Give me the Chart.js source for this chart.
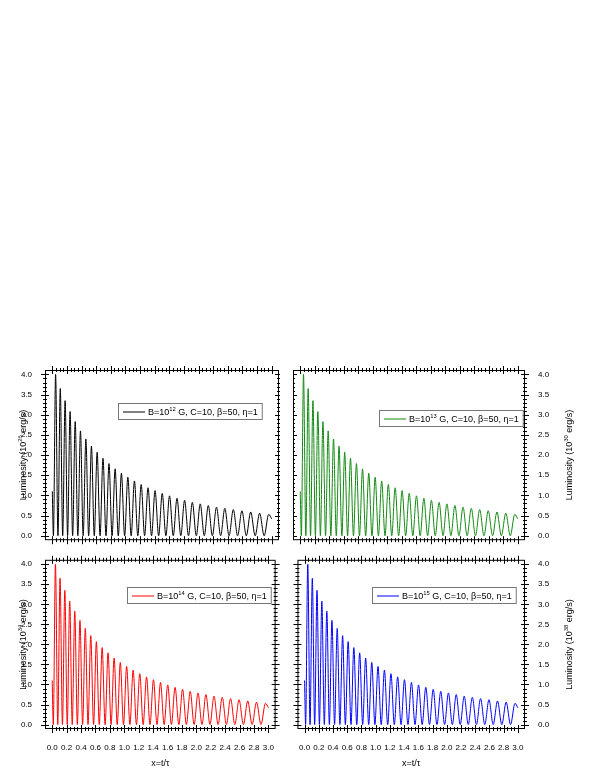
<!DOCTYPE html>
<html><head><meta charset="utf-8">
<script src="https://cdn.jsdelivr.net/npm/chart.js@4"></script>
<style>
body{margin:0;background:#fff;width:595px;height:770px;position:relative;overflow:hidden}
canvas{position:absolute}
</style></head><body>
<canvas id="c1" style="left:0;top:360px" width="280" height="190"></canvas>
<canvas id="c2" style="left:293px;top:360px" width="302" height="190"></canvas>
<canvas id="c3" style="left:0;top:550px" width="280" height="220"></canvas>
<canvas id="c4" style="left:293px;top:550px" width="302" height="220"></canvas>
<script>
// peaks of the oscillating luminosity curve
const peakX = [0.045,0.109,0.175,0.243,0.313,0.385,0.459,0.535,0.613,0.693,0.775,0.859,0.945,1.033,1.123,1.215,
  1.309,1.405,1.503,1.603,1.705,1.809,1.915,2.023,2.133,2.245,2.359,2.475,2.593,2.713,2.835,2.959];
const peakY = [4.0,3.65,3.35,3.08,2.83,2.6,2.4,2.22,2.07,1.92,1.79,1.66,1.55,1.45,1.36,1.27,
  1.19,1.12,1.05,0.99,0.93,0.88,0.83,0.79,0.75,0.71,0.68,0.65,0.62,0.59,0.56,0.53];
const troughX = [0.077,0.142,0.209,0.278,0.349,0.422,0.497,0.574,0.653,0.734,0.817,0.902,0.989,1.078,1.169,1.262,
  1.357,1.454,1.553,1.654,1.757,1.862,1.969,2.078,2.189,2.302,2.417,2.534,2.653,2.774,2.897];
const startPts = [[0.0,1.1],[0.015,0]];
const endPt = [3.0,0.42];
const xTicks = [0.0,0.2,0.4,0.6,0.8,1.0,1.2,1.4,1.6,1.8,2.0,2.2,2.4,2.6,2.8,3.0];
const yTicks = [0.0,0.5,1.0,1.5,2.0,2.5,3.0,3.5,4.0];
const panels = [
  {id:'c1', exp:'12', unit:'26', color:'#000000', right:false, bottom:false, leg:[118,403]},
  {id:'c2', exp:'13', unit:'30', color:'#128a12', right:true, bottom:false, leg:[379,410]},
  {id:'c3', exp:'14', unit:'34', color:'#ff0000', right:false, bottom:true, leg:[127,587]},
  {id:'c4', exp:'15', unit:'38', color:'#0000ff', right:true, bottom:true, leg:[372,587]}
];

function buildPoints() {
  const pts = startPts.map(p => ({x:p[0], y:p[1]}));
  peakX.forEach((x, i) => {
    pts.push({x:x, y:peakY[i]});
    if (i < troughX.length) pts.push({x:troughX[i], y:0});
  });
  pts.push({x:endPt[0], y:endPt[1]});
  return pts;
}

const FONT = '"Liberation Sans", Arial, sans-serif';

function supText(ctx, parts, x, y, size) {
  // parts: [text, isSup]
  parts.forEach(([t, sup]) => {
    ctx.font = (sup ? size*0.65 : size) + 'px ' + FONT;
    ctx.fillText(t, x, sup ? y - size*0.4 : y);
    x += ctx.measureText(t).width;
  });
  return x;
}

const framePlugin = {
  id:'frame',
  afterDraw(chart) {
    const p = chart.options.plugins.frame;
    const {ctx, chartArea:a, scales} = chart;
    const xs = scales.x, ys = scales.y;
    ctx.save();
    ctx.strokeStyle = '#000'; ctx.lineWidth = 1;
    ctx.strokeRect(a.left+0.5, a.top+0.5, a.right-a.left-1, a.bottom-a.top-1);
    ctx.beginPath();
    for (let v = 0; v <= 3.001; v += 0.05) {
      const px = Math.round(xs.getPixelForValue(v)) + 0.5;
      const major = Math.abs(v*5 - Math.round(v*5)) < 1e-6;
      const L = major ? 4 : 2;
      ctx.moveTo(px, a.bottom - L); ctx.lineTo(px, a.bottom + L);
      ctx.moveTo(px, a.top - L); ctx.lineTo(px, a.top + L);
    }
    for (let v = 0; v <= 4.001; v += 0.1) {
      const py = Math.round(ys.getPixelForValue(v)) + 0.5;
      const major = Math.abs(v*2 - Math.round(v*2)) < 1e-6;
      const L = major ? 4 : 2;
      ctx.moveTo(a.left - L, py); ctx.lineTo(a.left + L, py);
      ctx.moveTo(a.right - L, py); ctx.lineTo(a.right + L, py);
    }
    ctx.stroke();
    // y title
    ctx.fillStyle = '#000';
    ctx.textBaseline = 'alphabetic';
    const size = 9;
    ctx.font = size + 'px ' + FONT;
    const cy = (a.top + a.bottom)/2;
    const tx = p.right ? a.right + 47 : 26;
    ctx.translate(tx, cy);
    ctx.rotate(-Math.PI/2);
    const parts = [['Luminosity (10',false],[p.unit,true],[' erg/s)',false]];
    let w = 0;
    parts.forEach(([t,s]) => { ctx.font = (s?size*0.65:size)+'px '+FONT; w += ctx.measureText(t).width; });
    supText(ctx, parts, -w/2, 0, size);
    ctx.restore();
    // x title
    if (p.bottom) {
      ctx.save();
      ctx.fillStyle = '#000';
      ctx.font = '9px ' + FONT;
      ctx.textAlign = 'center';
      ctx.fillText('x=t/\u03c4', (a.left + a.right)/2, a.bottom + 37);
      ctx.restore();
    }
    // legend
    ctx.save();
    const c = chart.canvas.getBoundingClientRect();
    const lx = p.leg[0] - c.left, ly = p.leg[1] - (parseFloat(chart.canvas.style.top));
    const lparts = [['B=10',false],[p.exp,true],[' G, C=10, \u03b2=50, \u03b7=1',false]];
    ctx.font = '9px ' + FONT;
    let lw = 0;
    lparts.forEach(([t,s]) => { ctx.font = (s?5.85:9)+'px '+FONT; lw += ctx.measureText(t).width; });
    const bw = lw + 34, bh = 16;
    ctx.fillStyle = '#fff';
    ctx.fillRect(lx, ly, bw, bh);
    ctx.strokeStyle = '#777'; ctx.lineWidth = 1;
    ctx.strokeRect(lx+0.5, ly+0.5, bw, bh);
    ctx.strokeStyle = p.color;
    ctx.beginPath(); ctx.moveTo(lx+5, ly+9); ctx.lineTo(lx+27, ly+9); ctx.stroke();
    ctx.fillStyle = '#000';
    supText(ctx, lparts, lx+30, ly+12, 9);
    ctx.restore();
  }
};

panels.forEach(p => {
  const h = p.bottom ? 220 : 190;
  new Chart(document.getElementById(p.id), {
    type:'line',
    data:{datasets:[{data:buildPoints(), borderColor:p.color, borderWidth:1, pointRadius:0,
      cubicInterpolationMode:'monotone', fill:false}]},
    options:{
      responsive:false, animation:false,
      layout:{padding:{top:p.bottom?0:10, left:0, right:p.right?0:1, bottom:p.bottom?0:0}},
      plugins:{legend:{display:false}, tooltip:{enabled:false},
        frame:{right:p.right, bottom:p.bottom, unit:p.unit, exp:p.exp, color:p.color, leg:p.leg}},
      scales:{
        x:{type:'linear', min:-0.1, max:3.1, position:'bottom',
          afterBuildTicks(s){ s.ticks = xTicks.map(v => ({value:v})); },
          afterFit(s){ s.height = p.bottom ? 41 : 0; },
          grid:{display:false}, border:{display:false},
          ticks:{display:p.bottom, font:{size:8, family:FONT}, color:'#000', padding:6, maxRotation:0,
            autoSkip:false, callback:v => v.toFixed(1)}},
        y:{type:'linear', min:-0.11, max:4.11, position:p.right?'right':'left',
          afterBuildTicks(s){ s.ticks = yTicks.map(v => ({value:v})); },
          afterFit(s){ s.width = p.right ? 70 : 45; },
          grid:{display:false}, border:{display:false},
          ticks:{font:{size:8, family:FONT}, color:'#000', padding:5, callback:v => v.toFixed(1)}}
      }
    },
    plugins:[framePlugin]
  });
});
</script>
</body></html>
